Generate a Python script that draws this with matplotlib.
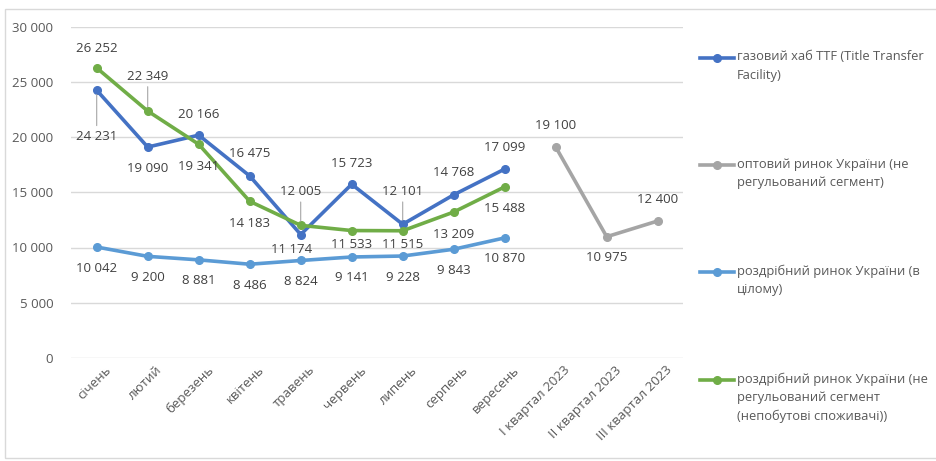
import matplotlib
matplotlib.use("Agg")
import matplotlib.pyplot as plt
import matplotlib.transforms as mtransforms
from matplotlib.lines import Line2D
from matplotlib.patches import Rectangle
import numpy as np

plt.rcParams['font.family'] = ['Open Sans', 'DejaVu Sans']

categories = ["січень", "лютий", "березень", "квітень", "травень", "червень",
              "липень", "серпень", "вересень", "I квартал 2023", "II квартал 2023",
              "III квартал 2023"]

ttf = [24231, 19090, 20166, 16475, 11174, 15723, 12101, 14768, 17099, None, None, None]
wholesale = [None, None, None, None, None, None, None, None, None, 19100, 10975, 12400]
retail_total = [10042, 9200, 8881, 8486, 8824, 9141, 9228, 9843, 10870, None, None, None]
retail_nonreg = [26252, 22349, 19341, 14183, 12005, 11533, 11515, 13209, 15488, None, None, None]

series_names = [
    "газовий хаб TTF (Title Transfer\nFacility)",
    "оптовий ринок України (не\nрегульований сегмент)",
    "роздрібний ринок України (в\nцілому)",
    "роздрібний ринок України (не\nрегульований сегмент\n(непобутові споживачі))",
]

y_ticks = [0, 5000, 10000, 15000, 20000, 25000, 30000]
y_ticklabels = ["0", "5 000", "10 000", "15 000", "20 000", "25 000", "30 000"]

colors = ["#4472C4", "#A5A5A5", "#5B9BD5", "#70AD47"]

W, H = 937, 461
fig = plt.figure(figsize=(W / 100, H / 100), dpi=100)
ax_left, ax_right, ax_top, ax_bottom = 71.2, 683.2, 26.5, 358.0
ax = fig.add_axes([ax_left / W, 1 - ax_bottom / H, (ax_right - ax_left) / W,
                   (ax_bottom - ax_top) / H])

x = np.arange(len(categories))

def to_arr(v):
    return np.array([np.nan if a is None else a for a in v], dtype=float)

all_series = [ttf, wholesale, retail_total, retail_nonreg]
draw_order = [2, 1, 0, 3]
for i in draw_order:
    ax.plot(x, to_arr(all_series[i]), color=colors[i], lw=2.6, marker='o',
            markersize=5.5, solid_capstyle='round', solid_joinstyle='round', zorder=3 + i)

# data label offsets in pixels (dx, dy), positive dy = upward
ttf_off = [(0, -46), (0, -21), (0, 21), (0, 22), (-9, -15), (0, 21), (0, 33), (0, 22), (0, 22)]
ttf_lead = [True, False, False, False, False, False, True, False, False]
whs_off = {9: (0, 21), 10: (0, -21), 11: (0, 21)}
rt_off = [(0, -21)] * 9
rn_off = [(0, 19), (0, 35), (0, -22), (0, -22), (0, 34), (0, -14), (0, -14), (0, -22), (0, -22)]
rn_lead = [False, True, False, False, True, False, False, False, False]

def fmt(v):
    return f"{v:,}".replace(",", " ")

label_kw = dict(textcoords='offset pixels', ha='center', va='center', fontsize=9.5,
                color='#404040', zorder=10)

def add_label(xi, v, off, lead):
    if lead:
        ax.annotate(fmt(v), xy=(xi, v), xytext=off,
                    arrowprops=dict(arrowstyle='-', color='#A6A6A6', lw=0.8,
                                    shrinkA=1, shrinkB=3), **label_kw)
    else:
        ax.annotate(fmt(v), xy=(xi, v), xytext=off, **label_kw)

for i, v in enumerate(ttf):
    if v is not None:
        add_label(i, v, ttf_off[i], ttf_lead[i])
for i, v in enumerate(wholesale):
    if v is not None:
        add_label(i, v, whs_off[i], False)
for i, v in enumerate(retail_total):
    if v is not None:
        add_label(i, v, rt_off[i], False)
for i, v in enumerate(retail_nonreg):
    if v is not None:
        add_label(i, v, rn_off[i], rn_lead[i])

ax.set_xlim(-0.5, len(categories) - 0.5)
ax.set_ylim(0, 30000)
ax.set_yticks(y_ticks)
ax.set_yticklabels(y_ticklabels)
ax.set_xticks(x)
ax.set_xticklabels(categories, rotation=45, ha='right', va='top', rotation_mode='anchor')
ax.tick_params(axis='both', length=0, labelsize=9.5, labelcolor='#595959')
ax.tick_params(axis='y', pad=13)
ax.tick_params(axis='x', pad=4)
offset = mtransforms.ScaledTranslation(8 / 100, 0, fig.dpi_scale_trans)
for lab in ax.get_xticklabels():
    lab.set_transform(lab.get_transform() + offset)

ax.grid(axis='y', color='#D9D9D9', lw=1)
ax.set_axisbelow(True)
for s in ax.spines.values():
    s.set_visible(False)

# legend (manual)
legend_rows = [58, 165, 272, 380]
for i, name in enumerate(series_names):
    yf = 1 - legend_rows[i] / H
    fig.add_artist(Line2D([700 / W, 734 / W], [yf, yf], color=colors[i], lw=2.6,
                          transform=fig.transFigure))
    fig.add_artist(Line2D([717 / W], [yf], color=colors[i], marker='o', markersize=5.5,
                          transform=fig.transFigure))
    fig.text(737 / W, yf + 7.5 / H, name, ha='left', va='top', fontsize=9.3,
             color='#595959', linespacing=1.55)

# outer border
fig.add_artist(Rectangle((5 / W, 1 - 458 / H), 940 / W, 449 / H, fill=False,
                         edgecolor='#D9D9D9', lw=1, transform=fig.transFigure))

fig.savefig("out.png", dpi=100)
